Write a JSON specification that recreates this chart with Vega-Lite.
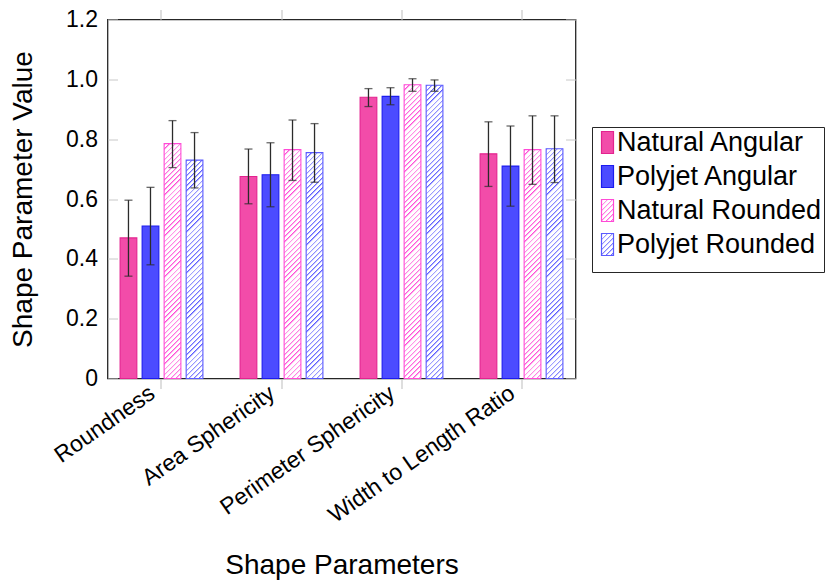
{
  "$schema": "https://vega.github.io/schema/vega-lite/v6.json",
  "width": 468,
  "height": 359,
  "autosize": {"type": "none"},
  "padding": {"left": 107.5, "top": 19.5, "right": 262.5, "bottom": 205.5},
  "background": "white",
  "config": {
    "font": "Liberation Sans",
    "view": {"stroke": "#262626", "strokeWidth": 1.3}
  },
  "params": [
    {"name": "hatchPink", "value": [
      {"offset":0,"color":"#ff4ad6"},{"offset":0.007,"color":"#fff"},{"offset":0.016,"color":"#fff"},
      {"offset":0.016,"color":"#ff4ad6"},{"offset":0.023,"color":"#fff"},{"offset":0.032,"color":"#fff"},
      {"offset":0.032,"color":"#ff4ad6"},{"offset":0.039,"color":"#fff"},{"offset":0.048,"color":"#fff"},
      {"offset":0.048,"color":"#ff4ad6"},{"offset":0.055,"color":"#fff"},{"offset":0.064,"color":"#fff"},
      {"offset":0.064,"color":"#ff4ad6"},{"offset":0.071,"color":"#fff"},{"offset":0.08,"color":"#fff"},
      {"offset":0.08,"color":"#ff4ad6"},{"offset":0.087,"color":"#fff"},{"offset":0.096,"color":"#fff"},
      {"offset":0.096,"color":"#ff4ad6"},{"offset":0.103,"color":"#fff"},{"offset":0.112,"color":"#fff"},
      {"offset":0.112,"color":"#ff4ad6"},{"offset":0.119,"color":"#fff"},{"offset":0.128,"color":"#fff"},
      {"offset":0.128,"color":"#ff4ad6"},{"offset":0.135,"color":"#fff"},{"offset":0.144,"color":"#fff"},
      {"offset":0.144,"color":"#ff4ad6"},{"offset":0.151,"color":"#fff"},{"offset":0.16,"color":"#fff"},
      {"offset":0.16,"color":"#ff4ad6"},{"offset":0.167,"color":"#fff"},{"offset":0.176,"color":"#fff"},
      {"offset":0.176,"color":"#ff4ad6"},{"offset":0.183,"color":"#fff"},{"offset":0.192,"color":"#fff"},
      {"offset":0.192,"color":"#ff4ad6"},{"offset":0.199,"color":"#fff"},{"offset":0.208,"color":"#fff"},
      {"offset":0.208,"color":"#ff4ad6"},{"offset":0.215,"color":"#fff"},{"offset":0.224,"color":"#fff"},
      {"offset":0.224,"color":"#ff4ad6"},{"offset":0.231,"color":"#fff"},{"offset":0.24,"color":"#fff"},
      {"offset":0.24,"color":"#ff4ad6"},{"offset":0.247,"color":"#fff"},{"offset":0.256,"color":"#fff"},
      {"offset":0.256,"color":"#ff4ad6"},{"offset":0.263,"color":"#fff"},{"offset":0.272,"color":"#fff"},
      {"offset":0.272,"color":"#ff4ad6"},{"offset":0.279,"color":"#fff"},{"offset":0.288,"color":"#fff"},
      {"offset":0.288,"color":"#ff4ad6"},{"offset":0.295,"color":"#fff"},{"offset":0.304,"color":"#fff"},
      {"offset":0.304,"color":"#ff4ad6"},{"offset":0.311,"color":"#fff"},{"offset":0.32,"color":"#fff"},
      {"offset":0.32,"color":"#ff4ad6"},{"offset":0.327,"color":"#fff"},{"offset":0.336,"color":"#fff"},
      {"offset":0.336,"color":"#ff4ad6"},{"offset":0.343,"color":"#fff"},{"offset":0.352,"color":"#fff"},
      {"offset":0.352,"color":"#ff4ad6"},{"offset":0.359,"color":"#fff"},{"offset":0.368,"color":"#fff"},
      {"offset":0.368,"color":"#ff4ad6"},{"offset":0.375,"color":"#fff"},{"offset":0.384,"color":"#fff"},
      {"offset":0.384,"color":"#ff4ad6"},{"offset":0.391,"color":"#fff"},{"offset":0.4,"color":"#fff"},
      {"offset":0.4,"color":"#ff4ad6"},{"offset":0.407,"color":"#fff"},{"offset":0.416,"color":"#fff"},
      {"offset":0.416,"color":"#ff4ad6"},{"offset":0.423,"color":"#fff"},{"offset":0.432,"color":"#fff"},
      {"offset":0.432,"color":"#ff4ad6"},{"offset":0.439,"color":"#fff"},{"offset":0.448,"color":"#fff"},
      {"offset":0.448,"color":"#ff4ad6"},{"offset":0.455,"color":"#fff"},{"offset":0.464,"color":"#fff"},
      {"offset":0.464,"color":"#ff4ad6"},{"offset":0.471,"color":"#fff"},{"offset":0.48,"color":"#fff"},
      {"offset":0.48,"color":"#ff4ad6"},{"offset":0.487,"color":"#fff"},{"offset":0.496,"color":"#fff"},
      {"offset":0.496,"color":"#ff4ad6"},{"offset":0.503,"color":"#fff"},{"offset":0.512,"color":"#fff"},
      {"offset":0.512,"color":"#ff4ad6"},{"offset":0.519,"color":"#fff"},{"offset":0.528,"color":"#fff"},
      {"offset":0.528,"color":"#ff4ad6"},{"offset":0.535,"color":"#fff"},{"offset":0.544,"color":"#fff"},
      {"offset":0.544,"color":"#ff4ad6"},{"offset":0.551,"color":"#fff"},{"offset":0.56,"color":"#fff"},
      {"offset":0.56,"color":"#ff4ad6"},{"offset":0.567,"color":"#fff"},{"offset":0.576,"color":"#fff"},
      {"offset":0.576,"color":"#ff4ad6"},{"offset":0.583,"color":"#fff"},{"offset":0.592,"color":"#fff"},
      {"offset":0.592,"color":"#ff4ad6"},{"offset":0.599,"color":"#fff"},{"offset":0.608,"color":"#fff"},
      {"offset":0.608,"color":"#ff4ad6"},{"offset":0.615,"color":"#fff"},{"offset":0.624,"color":"#fff"},
      {"offset":0.624,"color":"#ff4ad6"},{"offset":0.631,"color":"#fff"},{"offset":0.64,"color":"#fff"},
      {"offset":0.64,"color":"#ff4ad6"},{"offset":0.647,"color":"#fff"},{"offset":0.656,"color":"#fff"},
      {"offset":0.656,"color":"#ff4ad6"},{"offset":0.663,"color":"#fff"},{"offset":0.672,"color":"#fff"},
      {"offset":0.672,"color":"#ff4ad6"},{"offset":0.679,"color":"#fff"},{"offset":0.688,"color":"#fff"},
      {"offset":0.688,"color":"#ff4ad6"},{"offset":0.695,"color":"#fff"},{"offset":0.704,"color":"#fff"},
      {"offset":0.704,"color":"#ff4ad6"},{"offset":0.711,"color":"#fff"},{"offset":0.72,"color":"#fff"},
      {"offset":0.72,"color":"#ff4ad6"},{"offset":0.727,"color":"#fff"},{"offset":0.736,"color":"#fff"},
      {"offset":0.736,"color":"#ff4ad6"},{"offset":0.743,"color":"#fff"},{"offset":0.752,"color":"#fff"},
      {"offset":0.752,"color":"#ff4ad6"},{"offset":0.759,"color":"#fff"},{"offset":0.768,"color":"#fff"},
      {"offset":0.768,"color":"#ff4ad6"},{"offset":0.775,"color":"#fff"},{"offset":0.784,"color":"#fff"},
      {"offset":0.784,"color":"#ff4ad6"},{"offset":0.791,"color":"#fff"},{"offset":0.8,"color":"#fff"},
      {"offset":0.8,"color":"#ff4ad6"},{"offset":0.807,"color":"#fff"},{"offset":0.816,"color":"#fff"},
      {"offset":0.816,"color":"#ff4ad6"},{"offset":0.823,"color":"#fff"},{"offset":0.832,"color":"#fff"},
      {"offset":0.832,"color":"#ff4ad6"},{"offset":0.839,"color":"#fff"},{"offset":0.848,"color":"#fff"},
      {"offset":0.848,"color":"#ff4ad6"},{"offset":0.855,"color":"#fff"},{"offset":0.864,"color":"#fff"},
      {"offset":0.864,"color":"#ff4ad6"},{"offset":0.871,"color":"#fff"},{"offset":0.88,"color":"#fff"},
      {"offset":0.88,"color":"#ff4ad6"},{"offset":0.887,"color":"#fff"},{"offset":0.896,"color":"#fff"},
      {"offset":0.896,"color":"#ff4ad6"},{"offset":0.903,"color":"#fff"},{"offset":0.912,"color":"#fff"},
      {"offset":0.912,"color":"#ff4ad6"},{"offset":0.919,"color":"#fff"},{"offset":0.928,"color":"#fff"},
      {"offset":0.928,"color":"#ff4ad6"},{"offset":0.935,"color":"#fff"},{"offset":0.944,"color":"#fff"},
      {"offset":0.944,"color":"#ff4ad6"},{"offset":0.951,"color":"#fff"},{"offset":0.96,"color":"#fff"},
      {"offset":0.96,"color":"#ff4ad6"},{"offset":0.967,"color":"#fff"},{"offset":0.976,"color":"#fff"},
      {"offset":0.976,"color":"#ff4ad6"},{"offset":0.983,"color":"#fff"},{"offset":0.992,"color":"#fff"},
      {"offset":0.992,"color":"#ff4ad6"},{"offset":0.999,"color":"#fff"},{"offset":1,"color":"#fff"}
    ]},
    {"name": "hatchBlue", "value": [
      {"offset":0,"color":"#5a5aff"},{"offset":0.007,"color":"#fff"},{"offset":0.016,"color":"#fff"},
      {"offset":0.016,"color":"#5a5aff"},{"offset":0.023,"color":"#fff"},{"offset":0.032,"color":"#fff"},
      {"offset":0.032,"color":"#5a5aff"},{"offset":0.039,"color":"#fff"},{"offset":0.048,"color":"#fff"},
      {"offset":0.048,"color":"#5a5aff"},{"offset":0.055,"color":"#fff"},{"offset":0.064,"color":"#fff"},
      {"offset":0.064,"color":"#5a5aff"},{"offset":0.071,"color":"#fff"},{"offset":0.08,"color":"#fff"},
      {"offset":0.08,"color":"#5a5aff"},{"offset":0.087,"color":"#fff"},{"offset":0.096,"color":"#fff"},
      {"offset":0.096,"color":"#5a5aff"},{"offset":0.103,"color":"#fff"},{"offset":0.112,"color":"#fff"},
      {"offset":0.112,"color":"#5a5aff"},{"offset":0.119,"color":"#fff"},{"offset":0.128,"color":"#fff"},
      {"offset":0.128,"color":"#5a5aff"},{"offset":0.135,"color":"#fff"},{"offset":0.144,"color":"#fff"},
      {"offset":0.144,"color":"#5a5aff"},{"offset":0.151,"color":"#fff"},{"offset":0.16,"color":"#fff"},
      {"offset":0.16,"color":"#5a5aff"},{"offset":0.167,"color":"#fff"},{"offset":0.176,"color":"#fff"},
      {"offset":0.176,"color":"#5a5aff"},{"offset":0.183,"color":"#fff"},{"offset":0.192,"color":"#fff"},
      {"offset":0.192,"color":"#5a5aff"},{"offset":0.199,"color":"#fff"},{"offset":0.208,"color":"#fff"},
      {"offset":0.208,"color":"#5a5aff"},{"offset":0.215,"color":"#fff"},{"offset":0.224,"color":"#fff"},
      {"offset":0.224,"color":"#5a5aff"},{"offset":0.231,"color":"#fff"},{"offset":0.24,"color":"#fff"},
      {"offset":0.24,"color":"#5a5aff"},{"offset":0.247,"color":"#fff"},{"offset":0.256,"color":"#fff"},
      {"offset":0.256,"color":"#5a5aff"},{"offset":0.263,"color":"#fff"},{"offset":0.272,"color":"#fff"},
      {"offset":0.272,"color":"#5a5aff"},{"offset":0.279,"color":"#fff"},{"offset":0.288,"color":"#fff"},
      {"offset":0.288,"color":"#5a5aff"},{"offset":0.295,"color":"#fff"},{"offset":0.304,"color":"#fff"},
      {"offset":0.304,"color":"#5a5aff"},{"offset":0.311,"color":"#fff"},{"offset":0.32,"color":"#fff"},
      {"offset":0.32,"color":"#5a5aff"},{"offset":0.327,"color":"#fff"},{"offset":0.336,"color":"#fff"},
      {"offset":0.336,"color":"#5a5aff"},{"offset":0.343,"color":"#fff"},{"offset":0.352,"color":"#fff"},
      {"offset":0.352,"color":"#5a5aff"},{"offset":0.359,"color":"#fff"},{"offset":0.368,"color":"#fff"},
      {"offset":0.368,"color":"#5a5aff"},{"offset":0.375,"color":"#fff"},{"offset":0.384,"color":"#fff"},
      {"offset":0.384,"color":"#5a5aff"},{"offset":0.391,"color":"#fff"},{"offset":0.4,"color":"#fff"},
      {"offset":0.4,"color":"#5a5aff"},{"offset":0.407,"color":"#fff"},{"offset":0.416,"color":"#fff"},
      {"offset":0.416,"color":"#5a5aff"},{"offset":0.423,"color":"#fff"},{"offset":0.432,"color":"#fff"},
      {"offset":0.432,"color":"#5a5aff"},{"offset":0.439,"color":"#fff"},{"offset":0.448,"color":"#fff"},
      {"offset":0.448,"color":"#5a5aff"},{"offset":0.455,"color":"#fff"},{"offset":0.464,"color":"#fff"},
      {"offset":0.464,"color":"#5a5aff"},{"offset":0.471,"color":"#fff"},{"offset":0.48,"color":"#fff"},
      {"offset":0.48,"color":"#5a5aff"},{"offset":0.487,"color":"#fff"},{"offset":0.496,"color":"#fff"},
      {"offset":0.496,"color":"#5a5aff"},{"offset":0.503,"color":"#fff"},{"offset":0.512,"color":"#fff"},
      {"offset":0.512,"color":"#5a5aff"},{"offset":0.519,"color":"#fff"},{"offset":0.528,"color":"#fff"},
      {"offset":0.528,"color":"#5a5aff"},{"offset":0.535,"color":"#fff"},{"offset":0.544,"color":"#fff"},
      {"offset":0.544,"color":"#5a5aff"},{"offset":0.551,"color":"#fff"},{"offset":0.56,"color":"#fff"},
      {"offset":0.56,"color":"#5a5aff"},{"offset":0.567,"color":"#fff"},{"offset":0.576,"color":"#fff"},
      {"offset":0.576,"color":"#5a5aff"},{"offset":0.583,"color":"#fff"},{"offset":0.592,"color":"#fff"},
      {"offset":0.592,"color":"#5a5aff"},{"offset":0.599,"color":"#fff"},{"offset":0.608,"color":"#fff"},
      {"offset":0.608,"color":"#5a5aff"},{"offset":0.615,"color":"#fff"},{"offset":0.624,"color":"#fff"},
      {"offset":0.624,"color":"#5a5aff"},{"offset":0.631,"color":"#fff"},{"offset":0.64,"color":"#fff"},
      {"offset":0.64,"color":"#5a5aff"},{"offset":0.647,"color":"#fff"},{"offset":0.656,"color":"#fff"},
      {"offset":0.656,"color":"#5a5aff"},{"offset":0.663,"color":"#fff"},{"offset":0.672,"color":"#fff"},
      {"offset":0.672,"color":"#5a5aff"},{"offset":0.679,"color":"#fff"},{"offset":0.688,"color":"#fff"},
      {"offset":0.688,"color":"#5a5aff"},{"offset":0.695,"color":"#fff"},{"offset":0.704,"color":"#fff"},
      {"offset":0.704,"color":"#5a5aff"},{"offset":0.711,"color":"#fff"},{"offset":0.72,"color":"#fff"},
      {"offset":0.72,"color":"#5a5aff"},{"offset":0.727,"color":"#fff"},{"offset":0.736,"color":"#fff"},
      {"offset":0.736,"color":"#5a5aff"},{"offset":0.743,"color":"#fff"},{"offset":0.752,"color":"#fff"},
      {"offset":0.752,"color":"#5a5aff"},{"offset":0.759,"color":"#fff"},{"offset":0.768,"color":"#fff"},
      {"offset":0.768,"color":"#5a5aff"},{"offset":0.775,"color":"#fff"},{"offset":0.784,"color":"#fff"},
      {"offset":0.784,"color":"#5a5aff"},{"offset":0.791,"color":"#fff"},{"offset":0.8,"color":"#fff"},
      {"offset":0.8,"color":"#5a5aff"},{"offset":0.807,"color":"#fff"},{"offset":0.816,"color":"#fff"},
      {"offset":0.816,"color":"#5a5aff"},{"offset":0.823,"color":"#fff"},{"offset":0.832,"color":"#fff"},
      {"offset":0.832,"color":"#5a5aff"},{"offset":0.839,"color":"#fff"},{"offset":0.848,"color":"#fff"},
      {"offset":0.848,"color":"#5a5aff"},{"offset":0.855,"color":"#fff"},{"offset":0.864,"color":"#fff"},
      {"offset":0.864,"color":"#5a5aff"},{"offset":0.871,"color":"#fff"},{"offset":0.88,"color":"#fff"},
      {"offset":0.88,"color":"#5a5aff"},{"offset":0.887,"color":"#fff"},{"offset":0.896,"color":"#fff"},
      {"offset":0.896,"color":"#5a5aff"},{"offset":0.903,"color":"#fff"},{"offset":0.912,"color":"#fff"},
      {"offset":0.912,"color":"#5a5aff"},{"offset":0.919,"color":"#fff"},{"offset":0.928,"color":"#fff"},
      {"offset":0.928,"color":"#5a5aff"},{"offset":0.935,"color":"#fff"},{"offset":0.944,"color":"#fff"},
      {"offset":0.944,"color":"#5a5aff"},{"offset":0.951,"color":"#fff"},{"offset":0.96,"color":"#fff"},
      {"offset":0.96,"color":"#5a5aff"},{"offset":0.967,"color":"#fff"},{"offset":0.976,"color":"#fff"},
      {"offset":0.976,"color":"#5a5aff"},{"offset":0.983,"color":"#fff"},{"offset":0.992,"color":"#fff"},
      {"offset":0.992,"color":"#5a5aff"},{"offset":0.999,"color":"#fff"},{"offset":1,"color":"#fff"}
    ]}
  ],
  "data": {"values": [
    {"param": "Roundness", "series": "Natural Angular", "value": 0.47, "lo": 0.342, "hi": 0.596},
    {"param": "Roundness", "series": "Polyjet Angular", "value": 0.51, "lo": 0.38, "hi": 0.639},
    {"param": "Roundness", "series": "Natural Rounded", "value": 0.785, "lo": 0.705, "hi": 0.862},
    {"param": "Roundness", "series": "Polyjet Rounded", "value": 0.73, "lo": 0.637, "hi": 0.822},
    {"param": "Area Sphericity", "series": "Natural Angular", "value": 0.675, "lo": 0.584, "hi": 0.767},
    {"param": "Area Sphericity", "series": "Polyjet Angular", "value": 0.681, "lo": 0.574, "hi": 0.788},
    {"param": "Area Sphericity", "series": "Natural Rounded", "value": 0.765, "lo": 0.662, "hi": 0.864},
    {"param": "Area Sphericity", "series": "Polyjet Rounded", "value": 0.755, "lo": 0.656, "hi": 0.852},
    {"param": "Perimeter Sphericity", "series": "Natural Angular", "value": 0.94, "lo": 0.909, "hi": 0.969},
    {"param": "Perimeter Sphericity", "series": "Polyjet Angular", "value": 0.943, "lo": 0.915, "hi": 0.972},
    {"param": "Perimeter Sphericity", "series": "Natural Rounded", "value": 0.982, "lo": 0.96, "hi": 1.002},
    {"param": "Perimeter Sphericity", "series": "Polyjet Rounded", "value": 0.98, "lo": 0.96, "hi": 0.998},
    {"param": "Width to Length Ratio", "series": "Natural Angular", "value": 0.751, "lo": 0.642, "hi": 0.858},
    {"param": "Width to Length Ratio", "series": "Polyjet Angular", "value": 0.71, "lo": 0.576, "hi": 0.844},
    {"param": "Width to Length Ratio", "series": "Natural Rounded", "value": 0.765, "lo": 0.649, "hi": 0.878},
    {"param": "Width to Length Ratio", "series": "Polyjet Rounded", "value": 0.768, "lo": 0.655, "hi": 0.878}
  ]},
  "resolve": {"axis": {"x": "independent", "y": "independent"}},
  "layer": [
    {
      "transform": [{"filter": "indexof(datum.series, 'Angular') >= 0"}],
      "mark": {"type": "bar", "strokeWidth": 1.1},
      "encoding": {
        "x": {"field": "param", "type": "nominal",
          "scale": {"domain": ["Roundness", "Area Sphericity", "Perimeter Sphericity", "Width to Length Ratio"], "paddingInner": 0.31, "paddingOuter": 0.105},
          "axis": {"orient": "bottom", "title": "Shape Parameters", "titleFontSize": 28, "titleFontWeight": "normal", "titleColor": "black", "titlePadding": 24,
            "labelAngle": -35, "labelAlign": "right", "labelBaseline": "middle", "labelOffset": -9,
            "labelFontSize": 23, "labelColor": "black", "labelLimit": 400, "labelPadding": 2,
            "tickSize": 10, "tickColor": "#bdbdbd", "tickWidth": 1, "domain": false}},
        "xOffset": {"field": "series", "type": "nominal",
          "scale": {"domain": ["Natural Angular", "Polyjet Angular", "Natural Rounded", "Polyjet Rounded"], "paddingInner": 0.24}},
        "y": {"field": "value", "type": "quantitative",
          "scale": {"domain": [0, 1.2], "nice": false, "zero": true},
          "axis": {"orient": "left", "values": [0, 0.2, 0.4, 0.6, 0.8, 1, 1.2],
            "labelExpr": "datum.value == 0 ? '0' : format(datum.value, '.1f')",
            "labelFontSize": 23, "labelColor": "black", "labelPadding": 20,
            "tickSize": -10, "tickColor": "#c8c8c8", "domain": false, "grid": false,
            "title": "Shape Parameter Value", "titleFontSize": 28, "titleFontWeight": "normal", "titleColor": "black", "titlePadding": 28}},
        "fill": {"field": "series", "type": "nominal",
          "scale": {"domain": ["Natural Angular", "Polyjet Angular", "Natural Rounded", "Polyjet Rounded"],
            "range": ["#f24ca9", "#4c4cff",
              {"expr": "{gradient: 'linear', x1: 0, y1: 0, x2: 6.115, y2: 11.21, stops: hatchPink}"},
              {"expr": "{gradient: 'linear', x1: 0, y1: 0, x2: 6.115, y2: 11.21, stops: hatchBlue}"}]},
          "legend": {"orient": "none", "legendX": 484.5, "legendY": 107.5,
            "title": "\u2003\u2003\u2003\u2003\u2003\u2003\u2003\u2003\u2003\u2003\u2003\u2003\u2003\u2003\u2003\u2003\u2003\u2003\u2003\u2003\u2003\u2003\u2003\u2003\u2003\u2003\u2003\u2003\u2003\u2003\u2003\u2003\u2003\u2003\u2003\u2003\u2003\u2003\u2003\u2003",
            "titleOrient": "bottom", "titleFontSize": 9, "titlePadding": 3, "titleLimit": 600,
            "symbolType": "M-0.545,-1H0.545V1H-0.545Z", "symbolSize": 484, "symbolStrokeWidth": 1.2, "symbolOpacity": 1,
            "labelFontSize": 27, "labelColor": "black", "labelOffset": -4, "labelLimit": 400,
            "strokeColor": "#262626", "padding": 2, "rowPadding": 6}},
        "stroke": {"field": "series", "type": "nominal",
          "scale": {"domain": ["Natural Angular", "Polyjet Angular", "Natural Rounded", "Polyjet Rounded"], "range": ["#e3238f", "#1c1cf0", "#ff4ad6", "#5a5aff"]},
          "legend": {"orient": "none", "legendX": 484.5, "legendY": 107.5,
            "title": "\u2003\u2003\u2003\u2003\u2003\u2003\u2003\u2003\u2003\u2003\u2003\u2003\u2003\u2003\u2003\u2003\u2003\u2003\u2003\u2003\u2003\u2003\u2003\u2003\u2003\u2003\u2003\u2003\u2003\u2003\u2003\u2003\u2003\u2003\u2003\u2003\u2003\u2003\u2003\u2003",
            "titleOrient": "bottom", "titleFontSize": 9, "titlePadding": 3, "titleLimit": 600,
            "symbolType": "M-0.545,-1H0.545V1H-0.545Z", "symbolSize": 484, "symbolStrokeWidth": 1.2, "symbolOpacity": 1,
            "labelFontSize": 27, "labelColor": "black", "labelOffset": -4, "labelLimit": 400,
            "strokeColor": "#262626", "padding": 2, "rowPadding": 6}}
      }
    },
    {
      "transform": [{"filter": "indexof(datum.series, 'Rounded') >= 0"}],
      "mark": {"type": "bar", "strokeWidth": 1.1,
        "fill": {"expr": "{gradient: 'linear', x1: 0, y1: 0, x2: 320 * bandwidth('xOffset') / (pow(scale('y', 0) - scale('y', datum.value), 2) + pow(bandwidth('xOffset'), 2)), y2: 320 * (scale('y', 0) - scale('y', datum.value)) / (pow(scale('y', 0) - scale('y', datum.value), 2) + pow(bandwidth('xOffset'), 2)), stops: datum.series == 'Natural Rounded' ? hatchPink : hatchBlue}"}},
      "encoding": {
        "x": {"field": "param", "type": "nominal",
          "axis": {"orient": "top", "labels": false, "title": null, "tickSize": 10, "tickColor": "#bdbdbd", "domain": false}},
        "xOffset": {"field": "series", "type": "nominal"},
        "y": {"field": "value", "type": "quantitative",
          "axis": {"orient": "right", "labels": false, "title": null, "values": [0, 0.2, 0.4, 0.6, 0.8, 1, 1.2], "tickSize": -10, "tickColor": "#c8c8c8", "domain": false, "grid": false}},
        "stroke": {"field": "series", "type": "nominal"}
      }
    },
    {
      "mark": {"type": "rule", "color": "#2b2b2b", "strokeWidth": 1.3},
      "encoding": {
        "x": {"field": "param", "type": "nominal", "axis": null},
        "xOffset": {"field": "series", "type": "nominal"},
        "y": {"field": "lo", "type": "quantitative", "axis": null},
        "y2": {"field": "hi"}
      }
    },
    {
      "mark": {"type": "tick", "color": "#2b2b2b", "orient": "horizontal", "size": 8, "thickness": 1.3},
      "encoding": {
        "x": {"field": "param", "type": "nominal", "axis": null},
        "xOffset": {"field": "series", "type": "nominal"},
        "y": {"field": "lo", "type": "quantitative", "axis": null}
      }
    },
    {
      "mark": {"type": "tick", "color": "#2b2b2b", "orient": "horizontal", "size": 8, "thickness": 1.3},
      "encoding": {
        "x": {"field": "param", "type": "nominal", "axis": null},
        "xOffset": {"field": "series", "type": "nominal"},
        "y": {"field": "hi", "type": "quantitative", "axis": null}
      }
    }
  ]
}
